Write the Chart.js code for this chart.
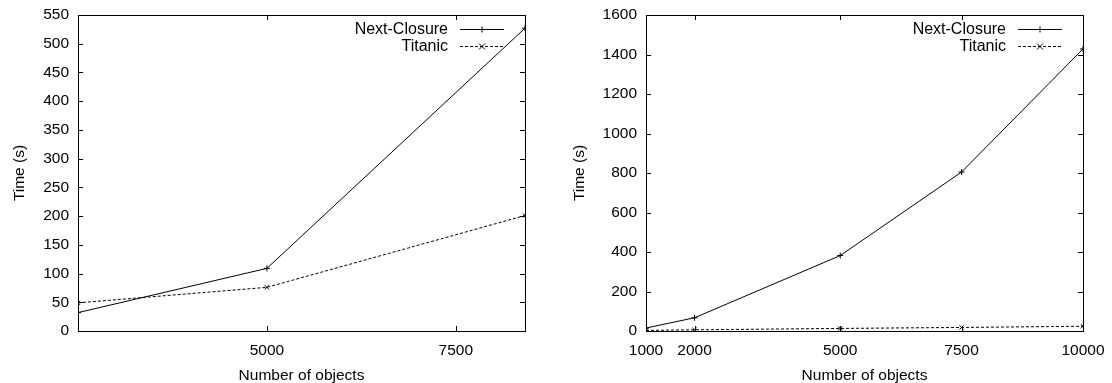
<!DOCTYPE html>
<html>
<head>
<meta charset="utf-8">
<script src="https://cdn.jsdelivr.net/npm/chart.js@4.4.1/dist/chart.umd.min.js"></script>
<style>
  body { margin: 0; background: #fff; }
  .pane { position: absolute; top: 0; width: 556px; height: 383px; }
</style>
</head>
<body>
<div class="pane" style="left:0"><canvas id="leftChart" width="556" height="383"></canvas></div>
<div class="pane" style="left:556px"><canvas id="rightChart" width="556" height="383"></canvas></div>
<script>
// left panel
var leftObjects = [2500, 5000, 8416];
var leftNextClosure = [32, 109, 527];
var leftTitanic = [49, 76, 201];
var leftXTicks = [5000, 7500];

// right panel
var rightObjects = [1000, 2000, 5000, 7500, 10000];
var rightNextClosure = [15, 67, 382, 805, 1428];
var rightTitanic = [3, 6, 13, 18, 24];
var rightXTicks = [1000, 2000, 5000, 7500, 10000];

var seriesNames = ["Next-Closure", "Titanic"];

var FONT = "'Liberation Sans', Arial, sans-serif";
Chart.defaults.font.family = FONT;
Chart.defaults.font.size = 15.5;
Chart.defaults.color = "#000";

function pts(xs, ys) {
  return xs.map(function(x, i) { return {x: x, y: ys[i]}; });
}

// gnuplot style frame with inward ticks on all four sides
var framePlugin = {
  id: 'frame',
  afterDatasetsDraw: function(chart) {
    var ctx = chart.ctx, a = chart.chartArea;
    var xs = chart.scales.x, ys = chart.scales.y, t = 5;
    ctx.save();
    ctx.strokeStyle = '#000';
    ctx.lineWidth = 1;
    ctx.strokeRect(Math.round(a.left) + 0.5, Math.round(a.top) + 0.5,
      Math.round(a.right - a.left), Math.round(a.bottom - a.top));
    ctx.beginPath();
    xs.ticks.forEach(function(tk) {
      var px = Math.round(xs.getPixelForValue(tk.value)) + 0.5;
      ctx.moveTo(px, a.bottom); ctx.lineTo(px, a.bottom - t);
      ctx.moveTo(px, a.top); ctx.lineTo(px, a.top + t);
    });
    ys.ticks.forEach(function(tk) {
      var py = Math.round(ys.getPixelForValue(tk.value)) + 0.5;
      ctx.moveTo(a.left, py); ctx.lineTo(a.left + t, py);
      ctx.moveTo(a.right, py); ctx.lineTo(a.right - t, py);
    });
    ctx.stroke();
    ctx.restore();
  }
};

// legend inside the top right corner: text right-aligned, then line sample
var keyPlugin = {
  id: 'key',
  afterDraw: function(chart) {
    var ctx = chart.ctx, a = chart.chartArea;
    ctx.save();
    ctx.font = "16px " + FONT;
    ctx.textAlign = 'right';
    ctx.textBaseline = 'middle';
    chart.data.datasets.forEach(function(ds, i) {
      var y = Math.round(a.top + 14 + i * 16.5) + 0.5;
      var x1 = a.right - 65, x2 = a.right - 21, xm = (x1 + x2) / 2;
      ctx.fillStyle = '#000';
      ctx.fillText(ds.label, a.right - 77, y);
      ctx.strokeStyle = '#000';
      ctx.lineWidth = 1;
      ctx.setLineDash(ds.borderDash || []);
      ctx.beginPath(); ctx.moveTo(x1, y); ctx.lineTo(x2, y); ctx.stroke();
      ctx.setLineDash([]);
      ctx.beginPath();
      if (ds.pointStyle === 'cross') {
        ctx.moveTo(xm - 3, y); ctx.lineTo(xm + 3, y);
        ctx.moveTo(xm, y - 3); ctx.lineTo(xm, y + 3);
      } else {
        ctx.moveTo(xm - 3, y - 3); ctx.lineTo(xm + 3, y + 3);
        ctx.moveTo(xm - 3, y + 3); ctx.lineTo(xm + 3, y - 3);
      }
      ctx.stroke();
    });
    ctx.restore();
  }
};

function makeChart(id, xs, nc, ti, xTicks, xMin, xMax, yMax, yStep, yWidth, yTitlePad, padRight) {
  return new Chart(document.getElementById(id), {
    type: 'line',
    data: {
      datasets: [{
        label: seriesNames[0],
        data: pts(xs, nc),
        borderColor: '#000',
        borderWidth: 1,
        pointStyle: 'cross',
        pointRadius: 3,
        pointBorderColor: '#000',
        pointBorderWidth: 1,
        fill: false,
        tension: 0
      }, {
        label: seriesNames[1],
        data: pts(xs, ti),
        borderColor: '#000',
        borderWidth: 1,
        borderDash: [3, 2],
        pointStyle: 'crossRot',
        pointRadius: 3,
        pointBorderColor: '#000',
        pointBorderWidth: 1,
        fill: false,
        tension: 0
      }]
    },
    options: {
      responsive: false,
      animation: false,
      devicePixelRatio: 1,
      layout: { padding: { top: 15, right: padRight, bottom: 0, left: 0 } },
      plugins: { legend: { display: false }, tooltip: { enabled: false } },
      scales: {
        x: {
          type: 'linear',
          min: xMin,
          max: xMax,
          grid: { display: false, drawTicks: false },
          border: { display: false },
          afterBuildTicks: function(s) { s.ticks = xTicks.map(function(v) { return {value: v}; }); },
          afterFit: function(s) { s.height = 52; s.paddingLeft = 0; s.paddingRight = 0; },
          ticks: { padding: 10, maxRotation: 0, autoSkip: false, callback: function(v) { return String(v); } },
          title: { display: true, text: 'Number of objects', font: { lineHeight: 1 }, padding: { top: 0, bottom: 0 } }
        },
        y: {
          min: 0,
          max: yMax,
          grid: { display: false, drawTicks: false },
          border: { display: false },
          afterFit: function(s) { s.width = yWidth; s.paddingTop = 0; s.paddingBottom = 0; },
          ticks: { stepSize: yStep, padding: 9, callback: function(v) { return String(v); } },
          title: { display: true, text: 'Time (s)', padding: { top: yTitlePad, bottom: 0 } }
        }
      }
    },
    plugins: [framePlugin, keyPlugin]
  });
}

makeChart('leftChart', leftObjects, leftNextClosure, leftTitanic, leftXTicks,
  2500, 8416, 550, 50, 78, 10, 31);
makeChart('rightChart', rightObjects, rightNextClosure, rightTitanic, rightXTicks,
  1000, 10000, 1600, 200, 90, 14, 29);
</script>
</body>
</html>
